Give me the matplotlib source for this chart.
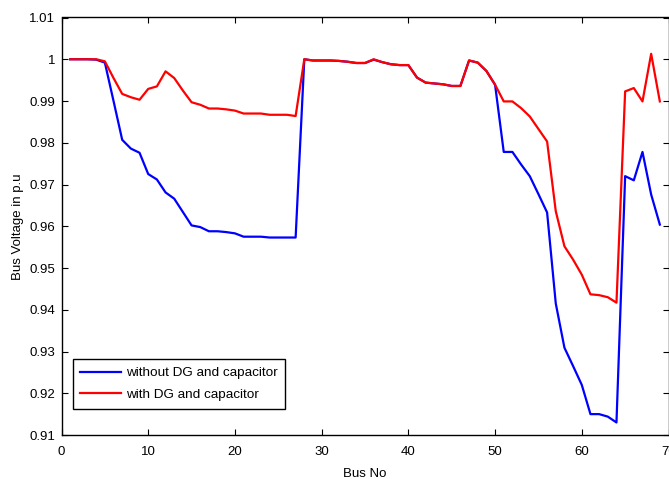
import numpy as np
import matplotlib
matplotlib.use('Agg')
import matplotlib.pyplot as plt

plt.rcParams['font.family'] = ['Liberation Sans', 'DejaVu Sans']

bus = np.arange(1, 70)

# bus voltages (p.u) for the base case
v_base = [1.0000, 1.0000, 1.0000, 0.9999, 0.9992, 0.9900, 0.9807, 0.9786, 0.9776, 0.9725,
          0.9712, 0.9681, 0.9666, 0.9634, 0.9602, 0.9598, 0.9588, 0.9588, 0.9586, 0.9583,
          0.9575, 0.9575, 0.9575, 0.9573, 0.9573, 0.9573, 0.9573, 1.0000, 0.9997, 0.9997,
          0.9997, 0.9996, 0.9994, 0.9991, 0.9991, 0.9999, 0.9993, 0.9988, 0.9986, 0.9986,
          0.9956, 0.9944, 0.9942, 0.9940, 0.9936, 0.9936, 0.9997, 0.9992, 0.9972, 0.9939,
          0.9778, 0.9778, 0.9748, 0.9720, 0.9677, 0.9633, 0.9415, 0.9309, 0.9265, 0.9220,
          0.9150, 0.9150, 0.9144, 0.9130, 0.9720, 0.9710, 0.9778, 0.9676, 0.9604]

# bus voltages (p.u) after placing DG and capacitor
v_dg = [1.0000, 1.0000, 1.0000, 1.0000, 0.9995, 0.9955, 0.9917, 0.9909, 0.9903, 0.9929,
        0.9935, 0.9971, 0.9955, 0.9925, 0.9897, 0.9891, 0.9882, 0.9882, 0.9880, 0.9877,
        0.9870, 0.9870, 0.9870, 0.9867, 0.9867, 0.9867, 0.9864, 1.0000, 0.9997, 0.9997,
        0.9997, 0.9996, 0.9994, 0.9991, 0.9991, 1.0000, 0.9993, 0.9988, 0.9986, 0.9986,
        0.9956, 0.9944, 0.9942, 0.9940, 0.9936, 0.9936, 0.9997, 0.9992, 0.9972, 0.9939,
        0.9899, 0.9899, 0.9883, 0.9863, 0.9833, 0.9803, 0.9636, 0.9552, 0.9520, 0.9484,
        0.9437, 0.9435, 0.9430, 0.9417, 0.9923, 0.9931, 0.9899, 1.0013, 0.9899]

xticks = [0, 10, 20, 30, 40, 50, 60, 70]
yticks = [0.91, 0.92, 0.93, 0.94, 0.95, 0.96, 0.97, 0.98, 0.99, 1.00, 1.01]
ytick_labels = ['0.91', '0.92', '0.93', '0.94', '0.95', '0.96', '0.97', '0.98', '0.99', '1', '1.01']

FS = 9.5

fig = plt.figure(figsize=(6.69, 4.79), dpi=100)
ax = fig.add_axes([61.5 / 669, 44 / 479, 607 / 669, 417.5 / 479])

ax.plot(bus, v_base, color=(0, 0, 1), linewidth=1.6, label='without DG and capacitor')
ax.plot(bus, v_dg, color=(1, 0, 0), linewidth=1.6, label='with DG and capacitor')

ax.set_xlim(0, 70)
ax.set_ylim(0.91, 1.01)
ax.set_xticks(xticks)
ax.set_yticks(yticks)
ax.set_yticklabels(ytick_labels)
ax.tick_params(direction='in', length=4, width=0.8, top=True, right=True, labelsize=FS)
ax.tick_params(axis='x', pad=8)
ax.tick_params(axis='y', pad=4.5)
for s in ax.spines.values():
    s.set_linewidth(1.0)

ax.set_xlabel('Bus No', fontsize=FS, labelpad=7)
ax.set_ylabel('Bus Voltage in p.u', fontsize=FS, labelpad=3.5)

leg = ax.legend(loc='upper left', bbox_to_anchor=(0.0185, 0.181), borderaxespad=0,
                fontsize=9.7, fancybox=False, framealpha=1, edgecolor='black',
                handlelength=3.05, handletextpad=0.36, labelspacing=0.7,
                borderpad=0.55)
leg.get_frame().set_linewidth(1.0)

fig.savefig('out.png', dpi=100)
